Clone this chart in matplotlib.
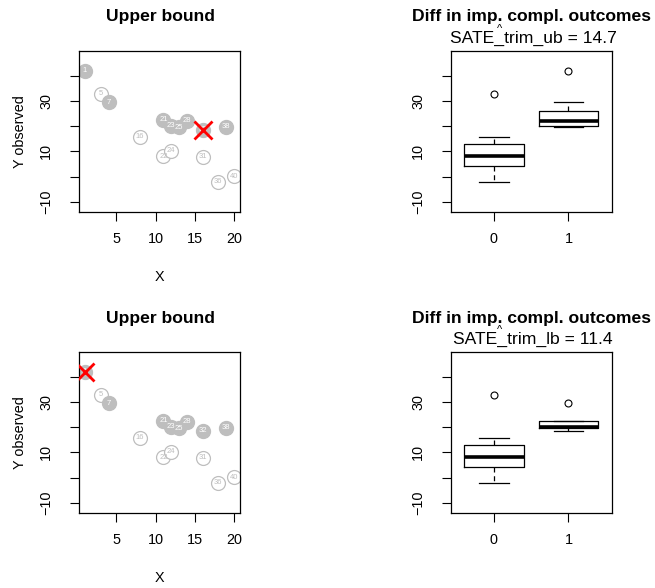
import matplotlib.pyplot as plt
import numpy as np

plt.rcParams['font.family'] = ['Liberation Sans', 'DejaVu Sans']

# data
unit = [1, 5, 7, 16, 21, 22, 23, 24, 25, 28, 31, 32, 36, 38, 40]
x_obs = [1, 3, 4, 8, 11, 11, 12, 12, 13, 14, 16, 16, 18, 19, 20]
y_obs = [42, 32.8, 29.4, 15.7, 22.6, 8.0, 20.1, 10.2, 19.5, 22.2, 7.9, 18.5, -2.1, 19.7, 0.1]
treat = [1, 0, 1, 0, 1, 0, 1, 0, 1, 1, 0, 1, 0, 1, 0]
trimmed = {'ub': 32, 'lb': 1}
sate_text = {'ub': 'SATE_trim_ub = 14.7', 'lb': 'SATE_trim_lb = 11.4'}

W, H = 655, 588
fig = plt.figure(figsize=(W / 100, H / 100), dpi=100)

def px(x0, y0, x1, y1):
    return [x0 / W, 1 - y1 / H, (x1 - x0) / W, (y1 - y0) / H]

grey = '#bebebe'
ylim = (-14.2, 49.8)
yt = [-10, 0, 10, 20, 30, 40]
ytl = ['-10', '', '10', '', '30', '']
tick_fs = 10.4
title_fs = 12.6

def style(ax):
    ax.set_ylim(ylim)
    ax.set_yticks(yt)
    ax.set_yticklabels([s.replace('-', '\u2212') for s in ytl], rotation=90, va='center')
    ax.tick_params(length=6.5, width=0.8, labelsize=tick_fs)
    ax.tick_params(axis='x', pad=8)
    ax.tick_params(axis='y', pad=12)
    for s in ax.spines.values():
        s.set_linewidth(0.9)

rows = [('ub', 0), ('lb', 301)]
y_arr = np.array(y_obs)
t_arr = np.array(treat)
u_arr = np.array(unit)

for key, off in rows:
    # scatter panel
    ax = fig.add_axes(px(79, 51 + off, 240, 212.3 + off))
    for xi, yi, ti, ui in zip(x_obs, y_obs, treat, unit):
        if ti == 1:
            ax.plot(xi, yi, 'o', ms=10, mfc=grey, mec=grey, zorder=2)
            ax.text(xi, yi, str(ui), color='white', fontsize=5.5, ha='center', va='center', zorder=3)
        else:
            ax.plot(xi, yi, 'o', ms=10, mfc='white', mec=grey, mew=0.9, zorder=2)
            ax.text(xi, yi, str(ui), color=grey, fontsize=5.5, ha='center', va='center', zorder=3)
    k = unit.index(trimmed[key])
    ax.plot(x_obs[k], y_obs[k], 'x', ms=13, mew=2.0, color='red', zorder=4)
    ax.set_xlim(0.24, 20.76)
    ax.set_xticks([5, 10, 15, 20])
    style(ax)
    ax.set_xlabel('X', fontsize=tick_fs, labelpad=17)
    ax.set_ylabel('Y observed', fontsize=tick_fs, labelpad=9)
    fig.text(160 / W, 1 - (17 + off) / H, 'Upper bound', fontsize=title_fs,
             fontweight='bold', ha='center', va='center')

    # boxplot panel
    keep = u_arr != trimmed[key]
    g0 = y_arr[keep & (t_arr == 0)]
    g1 = y_arr[keep & (t_arr == 1)]
    bx = fig.add_axes(px(450.7, 51 + off, 611.7, 212.3 + off))
    bx.boxplot([g0, g1], positions=[1, 2], widths=0.8, capwidths=0.4,
               tick_labels=['0', '1'],
               boxprops=dict(color='black', lw=0.9),
               medianprops=dict(color='black', lw=2.6),
               whiskerprops=dict(color='black', lw=0.9, ls=(0, (4, 3))),
               capprops=dict(color='black', lw=0.9),
               flierprops=dict(marker='o', ms=5, mfc='none', mec='black', mew=0.8))
    bx.set_xlim(0.42, 2.58)
    style(bx)
    fig.text(531 / W, 1 - (17 + off) / H, 'Diff in imp. compl. outcomes', fontsize=title_fs,
             fontweight='bold', ha='center', va='center')
    fig.text(533 / W, 1 - (38 + off) / H, sate_text[key],
             fontsize=title_fs, ha='center', va='center')
    fig.text(500 / W, 1 - (29 + off) / H, '^', fontsize=8, ha='center', va='center')

fig.savefig('out.png', dpi=100)
